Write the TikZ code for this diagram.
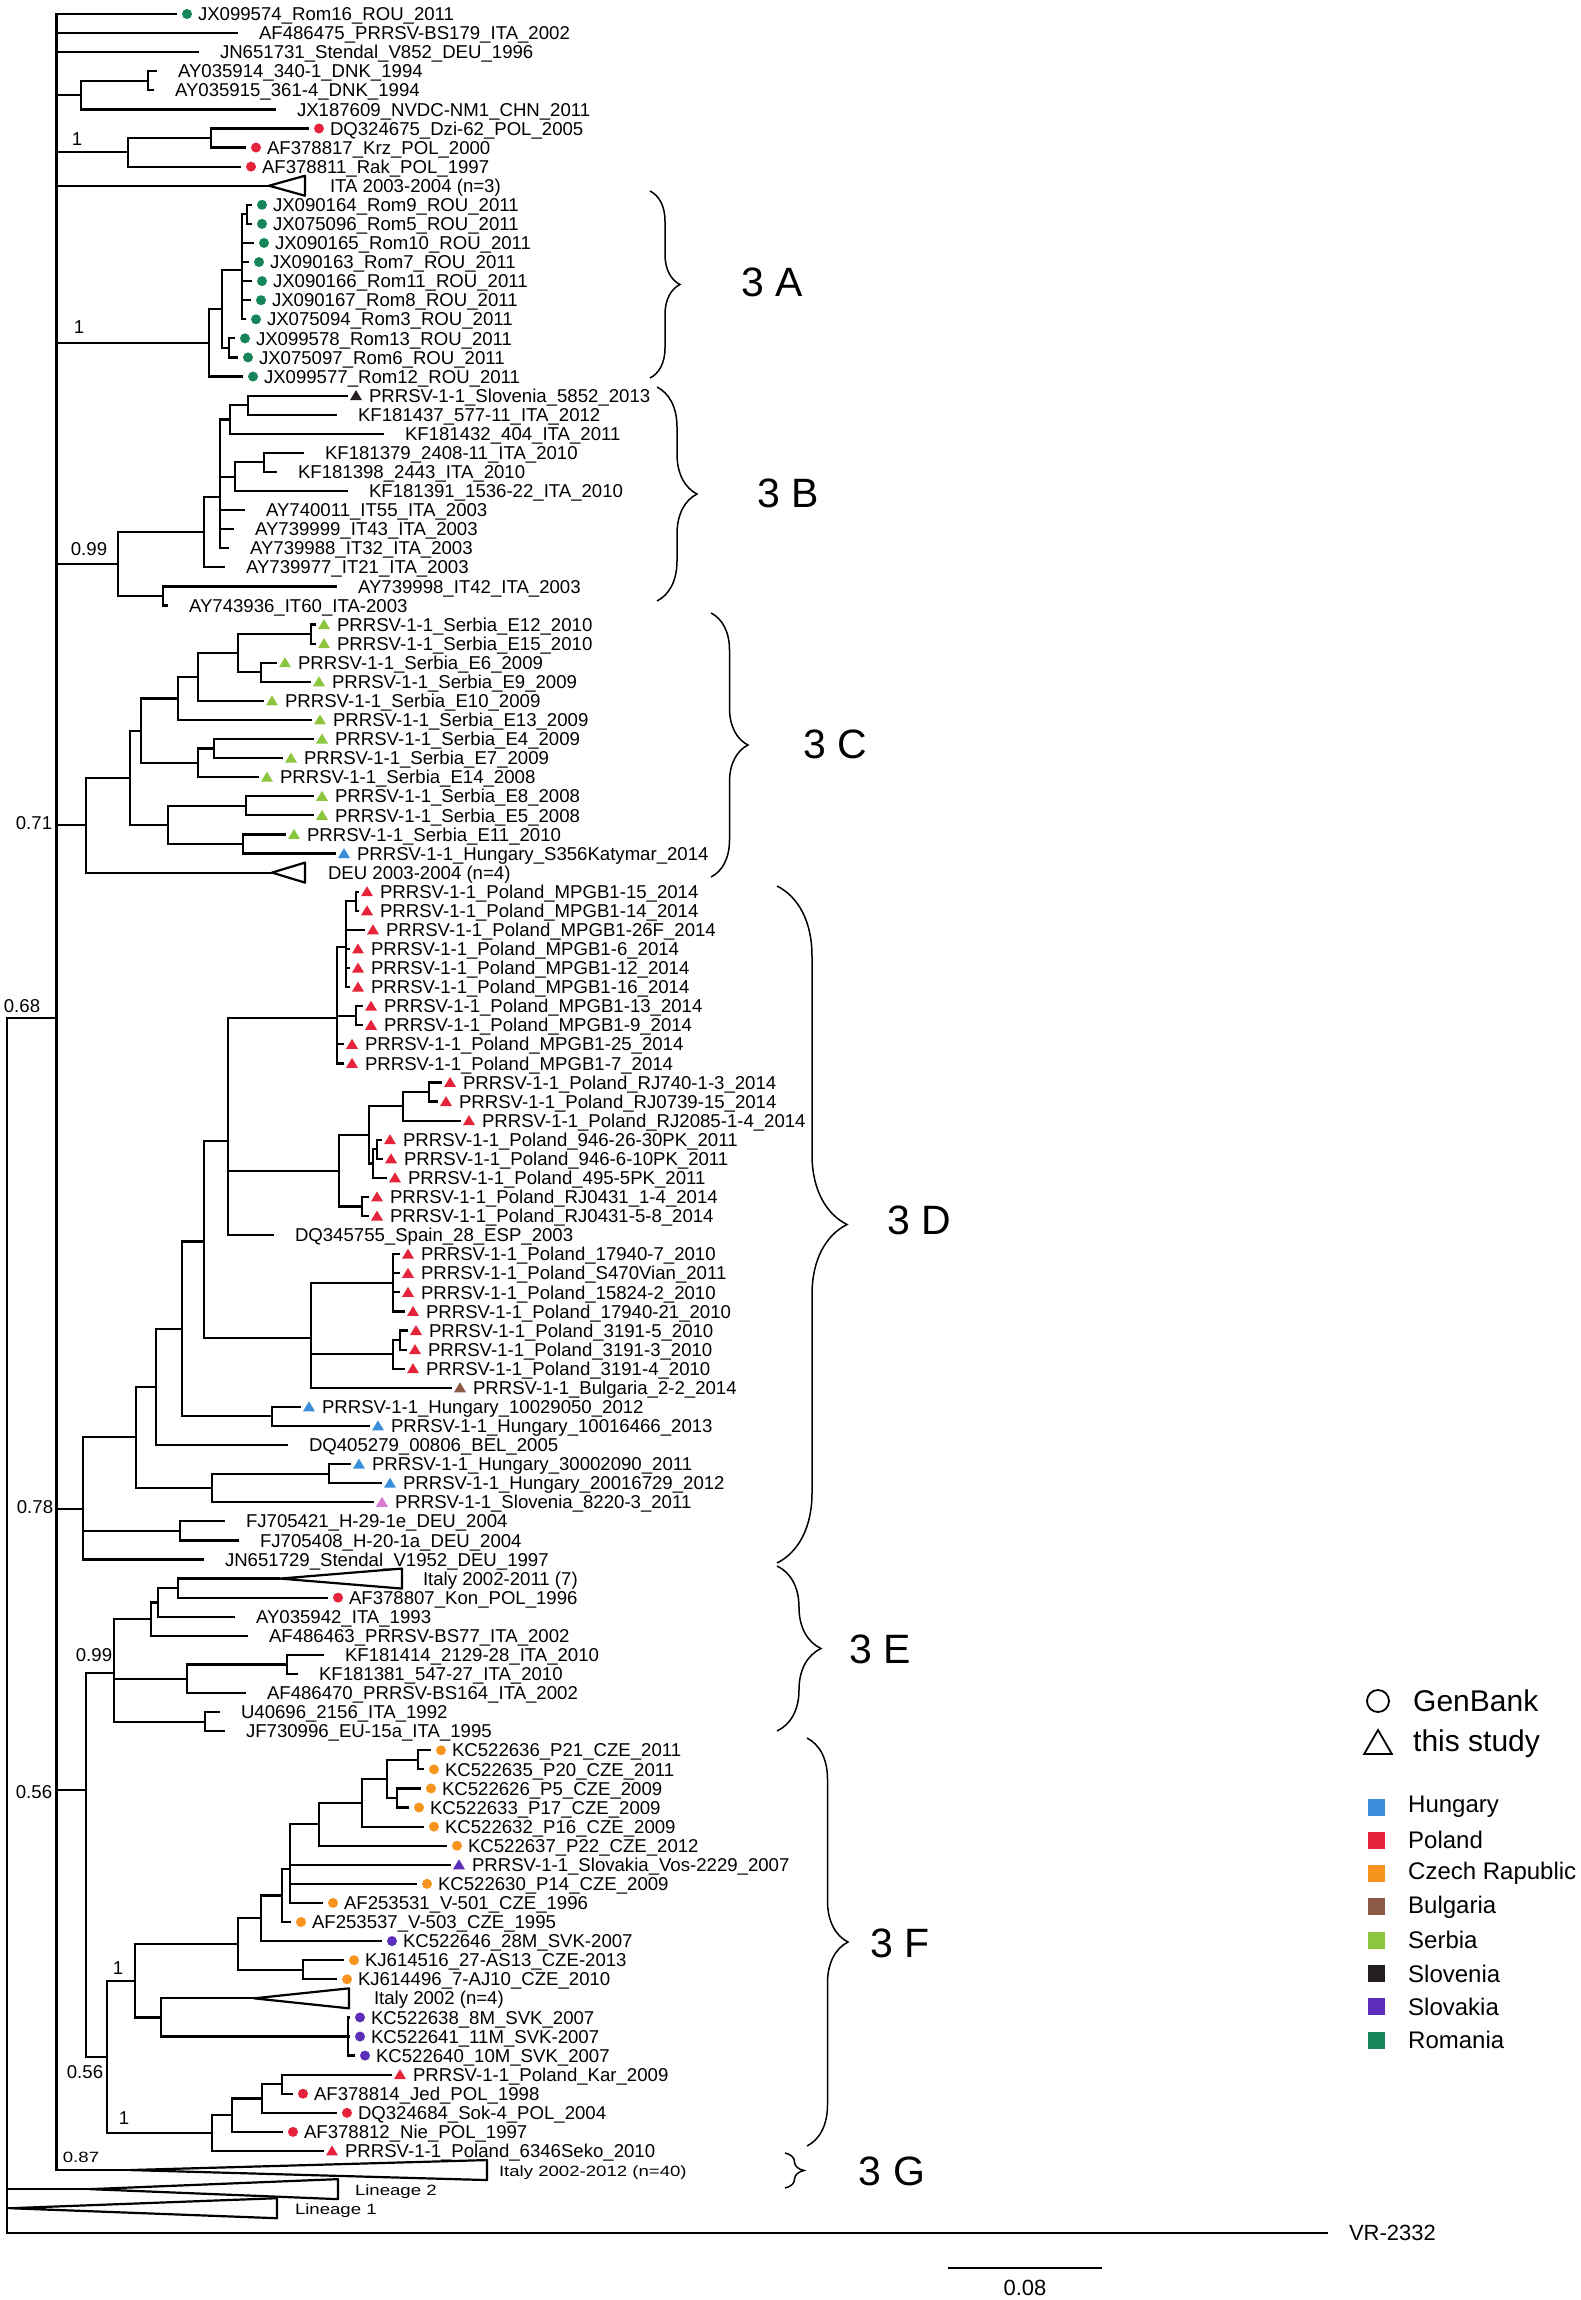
\documentclass[tikz,border=0pt]{standalone}
\usepackage{fontspec}
\setmainfont{Liberation Sans}
\usetikzlibrary{decorations.pathreplacing,shapes.geometric}
\definecolor{cHun}{HTML}{3A8EDB}
\definecolor{cPol}{HTML}{E5243B}
\definecolor{cCze}{HTML}{F7941D}
\definecolor{cBul}{HTML}{8C5A44}
\definecolor{cSer}{HTML}{8CC63E}
\definecolor{cSlo}{HTML}{231F20}
\definecolor{cSvk}{HTML}{5B2DB8}
\definecolor{cRom}{HTML}{17855A}
\definecolor{cPink}{HTML}{D97BD0}
\newcommand\lf[4]{\node[leaf] (#1) at ({#3-21},{ry(#2)}) {#4};}
\newcommand\lfd[5]{\lf{#1}{#2}{#3}{#4}\fill[#5] ([xshift=10pt]#1.west) circle[radius=5pt];}
\newcommand\lft[5]{\lf{#1}{#2}{#3}{#4}\fill[#5] ([xshift=8pt]#1.west) ++(-6pt,-4.5pt) -- ++(12pt,0pt) -- ++(-6pt,10pt) -- cycle;}
\newcommand\clade[6]{\coordinate (#1) at (#3,{ry(#2)});
\draw[br,line join=round] (#1) -- (#4,{ry(#2)-10}) -- (#4,{ry(#2)+10}) -- cycle;
\node[leaf,inner xsep=0pt] (#1t) at (#5,{ry(#2)}) {#6};}
\newcommand\kids[2]{\foreach \c in {#2} \draw[br] (#1) |- (\c);}
\begin{document}
\catcode`\_=12
\begin{tikzpicture}[x=1pt,y=-1pt,declare function={ry(\r)=14+19.08*(\r-1);}]
\tikzstyle{every node}=[font=\fontsize{18.6}{20}\selectfont]
\tikzstyle{leaf}=[anchor=west,inner xsep=21pt,inner ysep=0pt,outer sep=0pt,text height=13.3pt,text depth=0pt]
\tikzstyle{boot}=[inner sep=0pt,text height=13.3pt,text depth=0pt]
\tikzstyle{br}=[line width=2.2pt]
\tikzstyle{clbrace}=[decorate,decoration={brace,amplitude=#1},line width=1.5pt]
\tikzstyle{cltext}=[font=\fontsize{41}{45}\selectfont,inner sep=0pt]
\tikzstyle{lgtext}=[anchor=west,inner sep=0pt,font=\fontsize{24}{26}\selectfont]
\useasboundingbox (0,0) rectangle (1581,2300);

\coordinate (root) at (7,1600);
\coordinate (n068) at (56.5,1018);
\lfd{l1}{1}{198}{JX099574_Rom16_ROU_2011}{cRom}
\lf{l2}{2}{259}{AF486475_PRRSV-BS179_ITA_2002}
\lf{l3}{3}{220}{JN651731_Stendal_V852_DEU_1996}
\coordinate (nDNK) at (81,{ry(5.25)});
\coordinate (nDNK2) at (148,{ry(4.5)});
\lf{l4}{4}{178}{AY035914_340-1_DNK_1994}
\lf{l5}{5}{175}{AY035915_361-4_DNK_1994}
\lf{l6}{6}{297}{JX187609_NVDC-NM1_CHN_2011}
\coordinate (nPol1) at (128,{ry(8.25)});
\coordinate (nPol2) at (211,{ry(7.5)});
\lfd{l7}{7}{330}{DQ324675_Dzi-62_POL_2005}{cPol}
\lfd{l8}{8}{267}{AF378817_Krz_POL_2000}{cPol}
\lfd{l9}{9}{262}{AF378811_Rak_POL_1997}{cPol}
\clade{c10}{10}{269}{305}{330}{ITA 2003-2004 (n=3)}
\kids{nDNK2}{l4.west,l5.west}
\kids{nDNK}{nDNK2,l6.west}
\kids{nPol2}{l7.west,l8.west}
\kids{nPol1}{nPol2,l9.west}

\coordinate (nA1) at (209,{ry(18.229)});
\coordinate (nA2) at (222,{ry(16.458)});
\coordinate (nA3) at (242,{ry(14.417)});
\coordinate (nA5) at (247,{ry(11.5)});
\coordinate (nA4) at (229,{ry(18.5)});
\lfd{l11}{11}{273}{JX090164_Rom9_ROU_2011}{cRom}
\lfd{l12}{12}{273}{JX075096_Rom5_ROU_2011}{cRom}
\lfd{l13}{13}{275}{JX090165_Rom10_ROU_2011}{cRom}
\lfd{l14}{14}{270}{JX090163_Rom7_ROU_2011}{cRom}
\lfd{l15}{15}{273}{JX090166_Rom11_ROU_2011}{cRom}
\lfd{l16}{16}{272}{JX090167_Rom8_ROU_2011}{cRom}
\lfd{l17}{17}{267}{JX075094_Rom3_ROU_2011}{cRom}
\lfd{l18}{18}{256}{JX099578_Rom13_ROU_2011}{cRom}
\lfd{l19}{19}{259}{JX075097_Rom6_ROU_2011}{cRom}
\lfd{l20}{20}{264}{JX099577_Rom12_ROU_2011}{cRom}
\kids{nA5}{l11.west,l12.west}
\kids{nA3}{nA5,l13.west,l14.west,l15.west,l16.west,l17.west}
\kids{nA4}{l18.west,l19.west}
\kids{nA2}{nA3,nA4}
\kids{nA1}{nA2,l20.west}

\coordinate (nB0) at (118,{ry(29.825)});
\coordinate (nB1) at (204,{ry(28.15)});
\coordinate (nB3) at (220,{ry(26.3)});
\coordinate (nB4) at (230,{ry(22.25)});
\coordinate (nB6) at (248,{ry(21.5)});
\coordinate (nB5) at (235,{ry(25.25)});
\coordinate (nB7) at (264,{ry(24.5)});
\coordinate (nB2) at (163,{ry(31.5)});
\lft{l21}{21}{369}{PRRSV-1-1_Slovenia_5852_2013}{cSlo}
\lf{l22}{22}{358}{KF181437_577-11_ITA_2012}
\lf{l23}{23}{405}{KF181432_404_ITA_2011}
\lf{l24}{24}{325}{KF181379_2408-11_ITA_2010}
\lf{l25}{25}{298}{KF181398_2443_ITA_2010}
\lf{l26}{26}{369}{KF181391_1536-22_ITA_2010}
\lf{l27}{27}{266}{AY740011_IT55_ITA_2003}
\lf{l28}{28}{255}{AY739999_IT43_ITA_2003}
\lf{l29}{29}{250}{AY739988_IT32_ITA_2003}
\lf{l30}{30}{246}{AY739977_IT21_ITA_2003}
\lf{l31}{31}{358}{AY739998_IT42_ITA_2003}
\lf{l32}{32}{189}{AY743936_IT60_ITA-2003}
\kids{nB6}{l21.west,l22.west}
\kids{nB4}{nB6,l23.west}
\kids{nB7}{l24.west,l25.west}
\kids{nB5}{nB7,l26.west}
\kids{nB3}{nB4,nB5,l27.west,l28.west,l29.west}
\kids{nB1}{nB3,l30.west}
\kids{nB2}{l31.west,l32.west}
\kids{nB0}{nB1,nB2}

\coordinate (nC0) at (86,{ry(43.52)});
\coordinate (nC1) at (130,{ry(41.03)});
\coordinate (nC8) at (141,{ry(38.5625)});
\coordinate (nC9) at (178,{ry(36.875)});
\coordinate (nC10) at (198,{ry(35.75)});
\coordinate (nC11) at (238,{ry(34.5)});
\coordinate (nC12) at (311,{ry(33.5)});
\coordinate (nC13) at (261,{ry(35.5)});
\coordinate (nC6) at (198,{ry(40.25)});
\coordinate (nC7) at (214,{ry(39.5)});
\coordinate (nC3) at (168,{ry(43.5)});
\coordinate (nC14) at (246,{ry(42.5)});
\coordinate (nC15) at (243,{ry(44.5)});
\lft{l33}{33}{337}{PRRSV-1-1_Serbia_E12_2010}{cSer}
\lft{l34}{34}{337}{PRRSV-1-1_Serbia_E15_2010}{cSer}
\lft{l35}{35}{298}{PRRSV-1-1_Serbia_E6_2009}{cSer}
\lft{l36}{36}{332}{PRRSV-1-1_Serbia_E9_2009}{cSer}
\lft{l37}{37}{285}{PRRSV-1-1_Serbia_E10_2009}{cSer}
\lft{l38}{38}{333}{PRRSV-1-1_Serbia_E13_2009}{cSer}
\lft{l39}{39}{335}{PRRSV-1-1_Serbia_E4_2009}{cSer}
\lft{l40}{40}{304}{PRRSV-1-1_Serbia_E7_2009}{cSer}
\lft{l41}{41}{280}{PRRSV-1-1_Serbia_E14_2008}{cSer}
\lft{l42}{42}{335}{PRRSV-1-1_Serbia_E8_2008}{cSer}
\lft{l43}{43}{335}{PRRSV-1-1_Serbia_E5_2008}{cSer}
\lft{l44}{44}{307}{PRRSV-1-1_Serbia_E11_2010}{cSer}
\lft{l45}{45}{357}{PRRSV-1-1_Hungary_S356Katymar_2014}{cHun}
\clade{c46}{46}{272}{305}{328}{DEU 2003-2004 (n=4)}
\kids{nC12}{l33.west,l34.west}
\kids{nC13}{l35.west,l36.west}
\kids{nC11}{nC12,nC13}
\kids{nC10}{nC11,l37.west}
\kids{nC9}{nC10,l38.west}
\kids{nC7}{l39.west,l40.west}
\kids{nC6}{nC7,l41.west}
\kids{nC8}{nC9,nC6}
\kids{nC14}{l42.west,l43.west}
\kids{nC15}{l44.west,l45.west}
\kids{nC3}{nC14,nC15}
\kids{nC1}{nC8,nC3}
\kids{nC0}{nC1,c46}

\coordinate (nD0) at (83,{ry(79.37)});
\coordinate (nD1) at (136,{ry(75.6)});
\coordinate (nD4) at (156,{ry(72.96)});
\coordinate (nD7) at (182,{ry(69.9)});
\coordinate (nD8) at (204,{ry(65.33)});
\coordinate (nD10) at (228,{ry(60.08)});
\coordinate (nD12) at (337,{ry(53.6)});
\coordinate (nDa) at (346,{ry(49.9)});
\coordinate (nD21) at (356,{ry(47.5)});
\coordinate (nD23) at (356,{ry(53.5)});
\coordinate (nD13) at (339,{ry(61.625)});
\coordinate (nD14) at (369,{ry(59.75)});
\coordinate (nD16) at (403,{ry(58.25)});
\coordinate (nD17) at (429,{ry(57.5)});
\coordinate (nD18) at (373,{ry(61.25)});
\coordinate (nD19) at (377,{ry(60.5)});
\coordinate (nD15) at (362,{ry(63.5)});
\coordinate (nD11) at (311,{ry(70.4)});
\coordinate (nD24) at (393,{ry(67.5)});
\coordinate (nD25) at (393,{ry(71.25)});
\coordinate (nD26) at (400,{ry(70.5)});
\coordinate (nD9) at (272,{ry(74.5)});
\coordinate (nD5) at (212,{ry(78.25)});
\coordinate (nD6) at (329,{ry(77.5)});
\coordinate (nD3) at (180,{ry(80.5)});
\lft{l47}{47}{380}{PRRSV-1-1_Poland_MPGB1-15_2014}{cPol}
\lft{l48}{48}{380}{PRRSV-1-1_Poland_MPGB1-14_2014}{cPol}
\lft{l49}{49}{386}{PRRSV-1-1_Poland_MPGB1-26F_2014}{cPol}
\lft{l50}{50}{371}{PRRSV-1-1_Poland_MPGB1-6_2014}{cPol}
\lft{l51}{51}{371}{PRRSV-1-1_Poland_MPGB1-12_2014}{cPol}
\lft{l52}{52}{371}{PRRSV-1-1_Poland_MPGB1-16_2014}{cPol}
\lft{l53}{53}{384}{PRRSV-1-1_Poland_MPGB1-13_2014}{cPol}
\lft{l54}{54}{384}{PRRSV-1-1_Poland_MPGB1-9_2014}{cPol}
\lft{l55}{55}{365}{PRRSV-1-1_Poland_MPGB1-25_2014}{cPol}
\lft{l56}{56}{365}{PRRSV-1-1_Poland_MPGB1-7_2014}{cPol}
\lft{l57}{57}{463}{PRRSV-1-1_Poland_RJ740-1-3_2014}{cPol}
\lft{l58}{58}{459}{PRRSV-1-1_Poland_RJ0739-15_2014}{cPol}
\lft{l59}{59}{482}{PRRSV-1-1_Poland_RJ2085-1-4_2014}{cPol}
\lft{l60}{60}{403}{PRRSV-1-1_Poland_946-26-30PK_2011}{cPol}
\lft{l61}{61}{404}{PRRSV-1-1_Poland_946-6-10PK_2011}{cPol}
\lft{l62}{62}{408}{PRRSV-1-1_Poland_495-5PK_2011}{cPol}
\lft{l63}{63}{390}{PRRSV-1-1_Poland_RJ0431_1-4_2014}{cPol}
\lft{l64}{64}{390}{PRRSV-1-1_Poland_RJ0431-5-8_2014}{cPol}
\lf{l65}{65}{295}{DQ345755_Spain_28_ESP_2003}
\lft{l66}{66}{421}{PRRSV-1-1_Poland_17940-7_2010}{cPol}
\lft{l67}{67}{421}{PRRSV-1-1_Poland_S470Vian_2011}{cPol}
\lft{l68}{68}{421}{PRRSV-1-1_Poland_15824-2_2010}{cPol}
\lft{l69}{69}{426}{PRRSV-1-1_Poland_17940-21_2010}{cPol}
\lft{l70}{70}{429}{PRRSV-1-1_Poland_3191-5_2010}{cPol}
\lft{l71}{71}{428}{PRRSV-1-1_Poland_3191-3_2010}{cPol}
\lft{l72}{72}{426}{PRRSV-1-1_Poland_3191-4_2010}{cPol}
\lft{l73}{73}{473}{PRRSV-1-1_Bulgaria_2-2_2014}{cBul}
\lft{l74}{74}{322}{PRRSV-1-1_Hungary_10029050_2012}{cHun}
\lft{l75}{75}{391}{PRRSV-1-1_Hungary_10016466_2013}{cHun}
\lf{l76}{76}{309}{DQ405279_00806_BEL_2005}
\lft{l77}{77}{372}{PRRSV-1-1_Hungary_30002090_2011}{cHun}
\lft{l78}{78}{403}{PRRSV-1-1_Hungary_20016729_2012}{cHun}
\lft{l79}{79}{395}{PRRSV-1-1_Slovenia_8220-3_2011}{cPink}
\lf{l80}{80}{246}{FJ705421_H-29-1e_DEU_2004}
\lf{l81}{81}{260}{FJ705408_H-20-1a_DEU_2004}
\lf{l82}{82}{225}{JN651729_Stendal_V1952_DEU_1997}
\kids{nD21}{l47.west,l48.west}
\kids{nDa}{nD21,l49.west,l50.west,l51.west,l52.west}
\kids{nD23}{l53.west,l54.west}
\kids{nD12}{nDa,nD23,l55.west,l56.west}
\kids{nD17}{l57.west,l58.west}
\kids{nD16}{nD17,l59.west}
\kids{nD19}{l60.west,l61.west}
\kids{nD18}{nD19,l62.west}
\kids{nD14}{nD16,nD18}
\kids{nD15}{l63.west,l64.west}
\kids{nD13}{nD14,nD15}
\kids{nD10}{nD12,nD13,l65.west}
\kids{nD24}{l66.west,l67.west,l68.west,l69.west}
\kids{nD26}{l70.west,l71.west}
\kids{nD25}{nD26,l72.west}
\kids{nD11}{nD24,nD25,l73.west}
\kids{nD8}{nD10,nD11}
\kids{nD9}{l74.west,l75.west}
\kids{nD7}{nD8,nD9}
\kids{nD4}{nD7,l76.west}
\kids{nD6}{l77.west,l78.west}
\kids{nD5}{nD6,l79.west}
\kids{nD1}{nD4,nD5}
\kids{nD3}{l80.west,l81.west}
\kids{nD0}{nD1,nD3,l82.west}

\coordinate (nS0) at (86,1790);
\coordinate (nE0) at (114,{ry(87.96)});
\coordinate (nE1) at (151,{ry(85.125)});
\coordinate (nE4) at (158,{ry(84.25)});
\coordinate (nE5) at (178,{ry(83.5)});
\coordinate (nE2) at (187,{ry(88.25)});
\coordinate (nE6) at (287,{ry(87.5)});
\coordinate (nE3) at (205,{ry(90.5)});
\clade{c83}{83}{280}{402}{423}{Italy 2002-2011 (7)}
\lfd{l84}{84}{349}{AF378807_Kon_POL_1996}{cPol}
\lf{l85}{85}{256}{AY035942_ITA_1993}
\lf{l86}{86}{269}{AF486463_PRRSV-BS77_ITA_2002}
\lf{l87}{87}{345}{KF181414_2129-28_ITA_2010}
\lf{l88}{88}{319}{KF181381_547-27_ITA_2010}
\lf{l89}{89}{267}{AF486470_PRRSV-BS164_ITA_2002}
\lf{l90}{90}{241}{U40696_2156_ITA_1992}
\lf{l91}{91}{246}{JF730996_EU-15a_ITA_1995}
\kids{nE5}{c83,l84.west}
\kids{nE4}{nE5,l85.west}
\kids{nE1}{nE4,l86.west}
\kids{nE6}{l87.west,l88.west}
\kids{nE2}{nE6,l89.west}
\kids{nE3}{l90.west,l91.west}
\kids{nE0}{nE1,nE2,nE3}

\coordinate (nF0) at (107,{ry(108.07)});
\coordinate (nF1) at (135,{ry(104.08)});
\coordinate (nF10) at (238,{ry(102.15)});
\coordinate (nF2) at (261,{ry(100.8)});
\coordinate (nF3) at (282,{ry(99.61)});
\coordinate (nF4) at (290,{ry(98.22)});
\coordinate (nF5) at (319,{ry(95.875)});
\coordinate (nF6) at (362,{ry(94.75)});
\coordinate (nF7) at (387,{ry(93.5)});
\coordinate (nF8) at (418,{ry(92.5)});
\coordinate (nF9) at (397,{ry(94.5)});
\coordinate (nF11) at (303,{ry(103.5)});
\coordinate (nF12) at (161,{ry(106)});
\coordinate (nF13) at (348,{ry(107)});
\coordinate (nP0) at (212,{ry(112.06)});
\coordinate (nP1) at (232,{ry(111.125)});
\coordinate (nP2) at (262,{ry(110.25)});
\coordinate (nP3) at (282,{ry(109.5)});
\lfd{l92}{92}{452}{KC522636_P21_CZE_2011}{cCze}
\lfd{l93}{93}{445}{KC522635_P20_CZE_2011}{cCze}
\lfd{l94}{94}{442}{KC522626_P5_CZE_2009}{cCze}
\lfd{l95}{95}{430}{KC522633_P17_CZE_2009}{cCze}
\lfd{l96}{96}{445}{KC522632_P16_CZE_2009}{cCze}
\lfd{l97}{97}{468}{KC522637_P22_CZE_2012}{cCze}
\lft{l98}{98}{472}{PRRSV-1-1_Slovakia_Vos-2229_2007}{cSvk}
\lfd{l99}{99}{438}{KC522630_P14_CZE_2009}{cCze}
\lfd{l100}{100}{344}{AF253531_V-501_CZE_1996}{cCze}
\lfd{l101}{101}{312}{AF253537_V-503_CZE_1995}{cCze}
\lfd{l102}{102}{403}{KC522646_28M_SVK-2007}{cSvk}
\lfd{l103}{103}{365}{KJ614516_27-AS13_CZE-2013}{cCze}
\lfd{l104}{104}{358}{KJ614496_7-AJ10_CZE_2010}{cCze}
\clade{c105}{105}{254}{349}{374}{Italy 2002 (n=4)}
\lfd{l106}{106}{371}{KC522638_8M_SVK_2007}{cSvk}
\lfd{l107}{107}{371}{KC522641_11M_SVK-2007}{cSvk}
\lfd{l108}{108}{376}{KC522640_10M_SVK_2007}{cSvk}
\lft{l109}{109}{413}{PRRSV-1-1_Poland_Kar_2009}{cPol}
\lfd{l110}{110}{314}{AF378814_Jed_POL_1998}{cPol}
\lfd{l111}{111}{358}{DQ324684_Sok-4_POL_2004}{cPol}
\lfd{l112}{112}{304}{AF378812_Nie_POL_1997}{cPol}
\lft{l113}{113}{345}{PRRSV-1-1_Poland_6346Seko_2010}{cPol}
\kids{nF8}{l92.west,l93.west}
\kids{nF9}{l94.west,l95.west}
\kids{nF7}{nF8,nF9}
\kids{nF6}{nF7,l96.west}
\kids{nF5}{nF6,l97.west}
\kids{nF4}{nF5,l98.west,l99.west,l100.west}
\kids{nF3}{nF4,l101.west}
\kids{nF2}{nF3,l102.west}
\kids{nF11}{l103.west,l104.west}
\kids{nF10}{nF2,nF11}
\kids{nF13}{l106.west,l107.west,l108.west}
\kids{nF12}{c105,nF13}
\kids{nF1}{nF10,nF12}
\kids{nP3}{l109.west,l110.west}
\kids{nP2}{nP3,l111.west}
\kids{nP1}{nP2,l112.west}
\kids{nP0}{nP1,l113.west}
\kids{nF0}{nF1,nP0}
\kids{nS0}{nE0,nF0}

\clade{c114}{114}{130}{487}{499}{\scalebox{1}[0.8]{Italy 2002-2012 (n=40)}}
\clade{c115}{115}{90}{338}{355}{\scalebox{1}[0.8]{Lineage 2}}
\clade{c116}{116}{10}{277}{295}{\scalebox{1}[0.8]{Lineage 1}}
\node[leaf,font=\fontsize{22}{24}\selectfont,text height=15.5pt] (vr) at (1328,2233) {VR-2332};
\kids{n068}{l1.west,l2.west,l3.west,nDNK,nPol1,c10,nA1,nB0,nC0,nD0,nS0,c114}
\kids{root}{n068,c115,c116,vr.west}

\node[boot] (b1) at (77,139) {1};
\node[boot] (b2) at (79,327) {1};
\node[boot] (b3) at (89,549) {0.99};
\node[boot] (b4) at (34,823) {0.71};
\node[boot] (b5) at (22,1006) {0.68};
\node[boot] (b6) at (35,1507) {0.78};
\node[boot] (b7) at (94,1655) {0.99};
\node[boot] (b8) at (34,1792) {0.56};
\node[boot] (b9) at (118,1968) {1};
\node[boot] (b10) at (85,2072) {0.56};
\node[boot] (b11) at (124,2118) {1};
\node[boot] (b12) at (81,2156) {\scalebox{1}[0.8]{0.87}};

\coordinate (kA1) at (650,191); \coordinate (kA2) at (650,378);
\coordinate (kB1) at (657,387); \coordinate (kB2) at (657,601);
\coordinate (kC1) at (711,613); \coordinate (kC2) at (711,877);
\coordinate (kD1) at (777,886); \coordinate (kD2) at (777,1563);
\coordinate (kE1) at (777,1566); \coordinate (kE2) at (777,1731);
\coordinate (kF1) at (807,1738); \coordinate (kF2) at (807,2146);
\coordinate (kG1) at (785,2153); \coordinate (kG2) at (785,2188);
\draw[clbrace=30pt] (kA1) -- (kA2);
\draw[clbrace=40pt] (kB1) -- (kB2);
\draw[clbrace=37pt] (kC1) -- (kC2);
\draw[clbrace=70pt] (kD1) -- (kD2);
\draw[clbrace=44pt] (kE1) -- (kE2);
\draw[clbrace=41pt] (kF1) -- (kF2);
\draw[clbrace=19pt] (kG1) -- (kG2);
\node[cltext] (t3A) at (772,282) {3 A};
\node[cltext] (t3B) at (788,493) {3 B};
\node[cltext] (t3C) at (835,744) {3 C};
\node[cltext] (t3D) at (919,1220) {3 D};
\node[cltext] (t3E) at (880,1649) {3 E};
\node[cltext] (t3F) at (900,1943) {3 F};
\node[cltext] (t3G) at (892,2171) {3 G};

\node[circle,draw,line width=1.8pt,minimum size=22pt,inner sep=0pt] (lgc) at (1378,1701) {};
\node[lgtext,font=\fontsize{30}{32}\selectfont] (lgct) at (1413,1701) {GenBank};
\node[regular polygon,regular polygon sides=3,draw,line width=1.8pt,minimum size=32pt,inner sep=0pt] (lgt) at (1378,1746) {};
\node[lgtext,font=\fontsize{30}{32}\selectfont] (lgtt) at (1413,1744) {this study};
\foreach \c/\t [count=\i] in {cHun/Hungary,cPol/Poland,cCze/Czech Rapublic,cBul/Bulgaria,cSer/Serbia,cSlo/Slovenia,cSvk/Slovakia,cRom/Romania}{
\node[fill=\c,minimum size=17pt,inner sep=0pt] (sw\i) at (1376,{1807+33.3*(\i-1)}) {};
\node[lgtext] (sl\i) at (1408,{1807+33.3*(\i-1)}) {\t};
}

\coordinate (sb1) at (948,2268); \coordinate (sb2) at (1102,2268);
\draw[line width=2.5pt] (sb1) -- (sb2);
\node[boot,font=\fontsize{22}{24}\selectfont,text height=16pt] (sbl) at (1025,2287) {0.08};
\end{tikzpicture}
\end{document}
